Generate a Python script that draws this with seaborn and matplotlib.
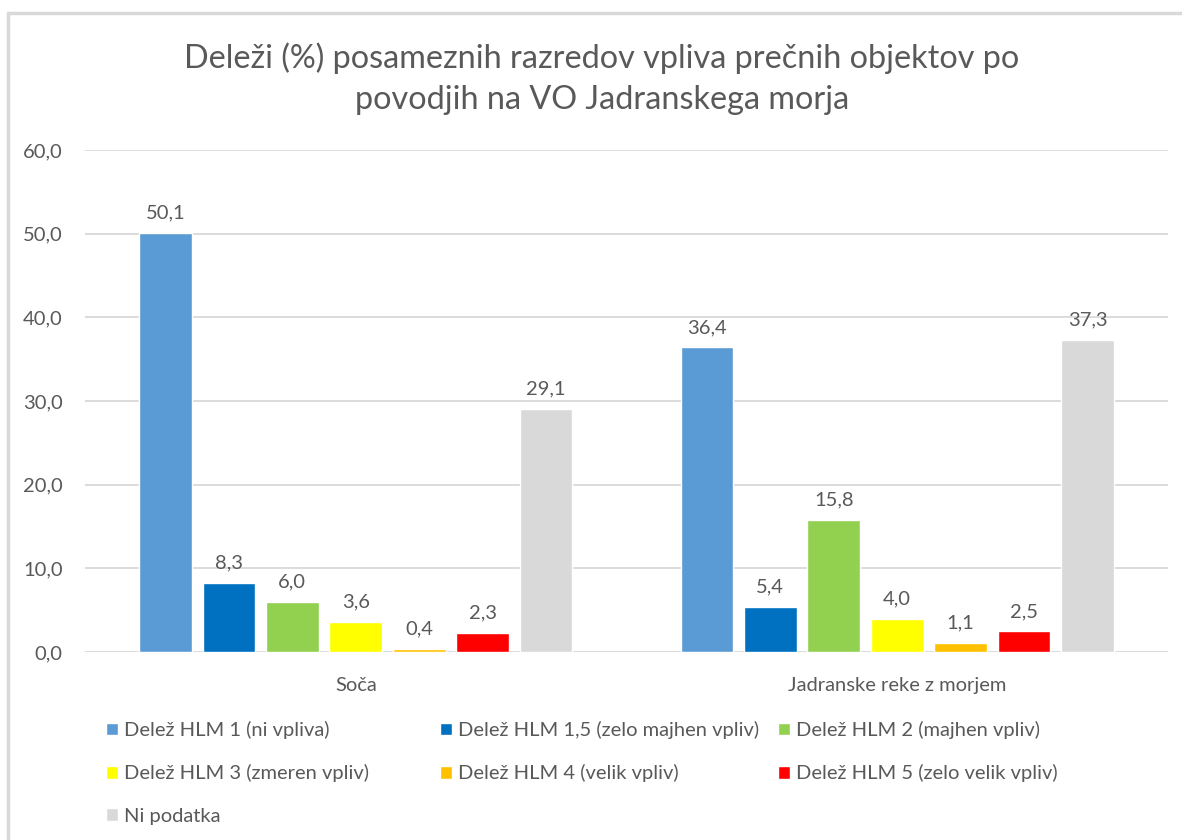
import pandas as pd
import matplotlib
matplotlib.use("Agg")
import matplotlib.pyplot as plt
import seaborn as sns
from matplotlib.patches import Rectangle

regions = ["Soča", "Jadranske reke z morjem"]
classes = ["Delež HLM 1 (ni vpliva)", "Delež HLM 1,5 (zelo majhen vpliv)",
           "Delež HLM 2 (majhen vpliv)", "Delež HLM 3 (zmeren vpliv)",
           "Delež HLM 4 (velik vpliv)", "Delež HLM 5 (zelo velik vpliv)",
           "Ni podatka"]
soca = [50.1, 8.3, 6.0, 3.6, 0.4, 2.3, 29.1]
jadranske = [36.4, 5.4, 15.8, 4.0, 1.1, 2.5, 37.3]
colors = ["#5B9BD5", "#0070C0", "#92D050", "#FFFF00", "#FFC000", "#FF0000", "#D9D9D9"]
yticks = [0, 10, 20, 30, 40, 50, 60]

rows = []
for reg, vals in zip(regions, [soca, jadranske]):
    for c, v in zip(classes, vals):
        rows.append({"povodje": reg, "razred": c, "delez": v})
df = pd.DataFrame(rows)

sns.set_theme(style="white")
plt.rcParams['font.family'] = ['Lato', 'DejaVu Sans']
txt = "#595959"

fig = plt.figure(figsize=(11.82, 8.4), dpi=100)
ax = fig.add_axes([85 / 1182, 1 - 652 / 840, (1168 - 85) / 1182, (652 - 150) / 840])

sns.barplot(data=df, x="povodje", y="delez", hue="razred", hue_order=classes,
            palette=colors, order=regions, width=0.82, gap=0.17, saturation=1,
            ax=ax, legend=True)

for cont in ax.containers:
    ax.bar_label(cont, labels=[f"{v:.1f}".replace(".", ",") for v in cont.datavalues],
                 padding=8, fontsize=14.5, color=txt)

ax.set_ylim(0, 60)
ax.set_yticks(yticks)
ax.set_yticklabels([f"{t:.1f}".replace(".", ",") for t in yticks], fontsize=14.5, color=txt)
ax.tick_params(axis="x", labelsize=14.5, labelcolor=txt, length=0, pad=18)
ax.tick_params(axis="y", length=0, pad=16)
ax.set_xlabel("")
ax.set_ylabel("")
ax.grid(axis="y", color="#D9D9D9", linewidth=1.3)
ax.set_axisbelow(True)
for s in ax.spines.values():
    s.set_visible(False)

handles, labels = ax.get_legend_handles_labels()
ax.legend_.remove()
# three legend columns at fixed positions, filled row by row
col_x = [98, 432, 770]
for j, x in enumerate(col_x):
    idx = list(range(j, len(handles), 3))
    fig.legend([handles[i] for i in idx], [labels[i] for i in idx],
               loc="upper left", bbox_to_anchor=(x / 1182, 1 - 713 / 840),
               ncol=1, frameon=False, fontsize=14.5, labelcolor=txt,
               handlelength=0.6, handleheight=0.6, handletextpad=0.3,
               labelspacing=1.25, borderaxespad=0)

fig.text(602 / 1182, 1 - 79 / 840,
         "Deleži (%) posameznih razredov vpliva prečnih objektov po\npovodjih na VO Jadranskega morja",
         ha="center", va="center", fontsize=23.3, color=txt, linespacing=1.45)

fig.patches.append(Rectangle((8 / 1182, -0.1), 1.2, 1 - 13 / 840 + 0.1,
                             transform=fig.transFigure, fill=False,
                             edgecolor="#D9D9D9", linewidth=2.5))

fig.savefig("out.png", dpi=100)
